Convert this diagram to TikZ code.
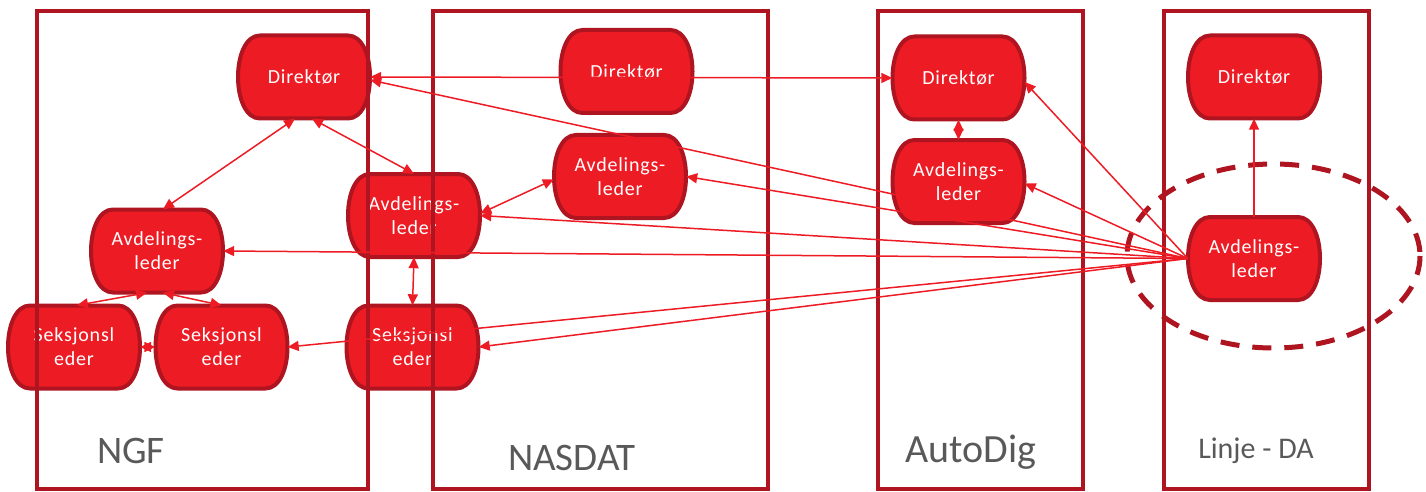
\documentclass[tikz,border=0pt]{standalone}
\usepackage{fontspec}
\setmainfont{Carlito}
\newfontfamily\orgfont[LetterSpace=4]{Carlito}
\usetikzlibrary{arrows.meta}
\definecolor{orgred}{HTML}{ED1C24}
\definecolor{orgdark}{HTML}{AE1520}
\definecolor{labelgray}{HTML}{595959}
\tikzset{
  nodeshape/.style={draw=orgdark, line width=4pt, fill=orgred, line join=round},
  nodetext/.style={draw=none, inner sep=0pt, minimum width=132pt, minimum height=83pt,
    text=white, align=center, font=\fontsize{20}{24}\selectfont\orgfont},
  boxline/.style={draw=orgdark, line width=4.5pt},
  conn/.style={draw=orgred, line width=1.5pt, arrows={-Triangle[length=11pt,width=10pt]}},
  both/.style={arrows={Triangle[length=11pt,width=10pt]-Triangle[length=11pt,width=10pt]}},
  grouplabel/.style={text=labelgray, anchor=base, inner sep=0pt},
}
\newcommand\orgnode[4]{%
  \begin{scope}[shift={(#2,#3)}]
    \draw[nodeshape] (-44,-41.5) -- (44,-41.5)
      .. controls (58,-41.5) and (66,-22) .. (66,0)
      .. controls (66,22) and (58,41.5) .. (44,41.5)
      -- (-44,41.5)
      .. controls (-58,41.5) and (-66,22) .. (-66,0)
      .. controls (-66,-22) and (-58,-41.5) .. (-44,-41.5) -- cycle;
  \end{scope}
  \node[nodetext] (#1) at (#2,#3) {#4};
}
\begin{document}
\begin{tikzpicture}[x=1pt,y=-1pt]
\useasboundingbox (0,0) rectangle (1426,492);
% nodes
\orgnode{ND}{304}{77}{Direktør}
\orgnode{GA}{157}{251}{Avdelings-\\leder}
\orgnode{S1}{74}{347}{Seksjonsl\\eder}
\orgnode{S2}{221.5}{347}{Seksjonsl\\eder}
\orgnode{NA}{414}{215.5}{Avdelings-\\leder}
\orgnode{NS}{412.5}{347}{Seksjonsl\\eder}
\orgnode{XD}{626.5}{71.5}{Direktør}
\orgnode{XA}{620}{176.5}{Avdelings-\\leder}
\orgnode{AD}{958.5}{78}{Direktør}
\orgnode{AA}{958.5}{181.5}{Avdelings-\\leder}
\orgnode{LD}{1254}{77}{Direktør}
\orgnode{LA}{1254}{258.5}{Avdelings-\\leder}
% group boxes
\draw[boxline] (37,11) rectangle (368,489);
\draw[boxline] (433,11) rectangle (768,489);
\draw[boxline] (878,11) rectangle (1083,489);
\draw[boxline] (1164,11) rectangle (1369,489);
% dashed ellipse
\draw[draw=orgdark, line width=5pt, dash pattern=on 19pt off 13pt] (1273.5,256) ellipse [x radius=146.5, y radius=92];
% labels
\node[grouplabel, font=\fontsize{39}{39}\selectfont] (lngf) at (131,463) {NGF};
\node[grouplabel, font=\fontsize{39}{39}\selectfont] (lnas) at (572,470) {NASDAT};
\node[grouplabel, font=\fontsize{40}{40}\selectfont] (laut) at (971,462) {AutoDig};
\node[grouplabel, font=\fontsize{30}{30}\selectfont] (llin) at (1256,458) {Linje - DA};
% connectors
\draw[conn,both] (ND.east) -- (AD.west);
\draw[conn] (LA.west) -- ([yshift=-3pt]ND.east);
\draw[conn] (LA.west) -- ([yshift=-4pt]AD.east);
\draw[conn] (LA.west) -- ([yshift=-2pt]AA.east);
\draw[conn] (LA.west) -- (XA.east);
\draw[conn] (LA.west) -- (NA.east);
\draw[conn] (LA.west) -- (GA.east);
\draw[conn] (LA.west) -- (S2.east);
\draw[conn] (LA.west) -- (NS.east);
\draw[conn] (LA.north) -- (LD.south);
\draw[conn,both] ([xshift=-9pt]ND.south) -- ([xshift=6pt]GA.north);
\draw[conn,both] ([xshift=8pt]ND.south) -- (NA.north);
\draw[conn,both] ([xshift=-10pt]GA.south) -- ([xshift=3pt]S1.north);
\draw[conn,both] ([xshift=6pt]GA.south) -- (S2.north);
\draw[conn,both] (S1.east) -- (S2.west);
\draw[conn,both] (NA.south) -- (NS.north);
\draw[conn,both] ([yshift=2pt]NA.east) -- ([yshift=-3pt]XA.west);
\draw[conn,both] (AD.south) -- (AA.north);
\end{tikzpicture}
\end{document}
